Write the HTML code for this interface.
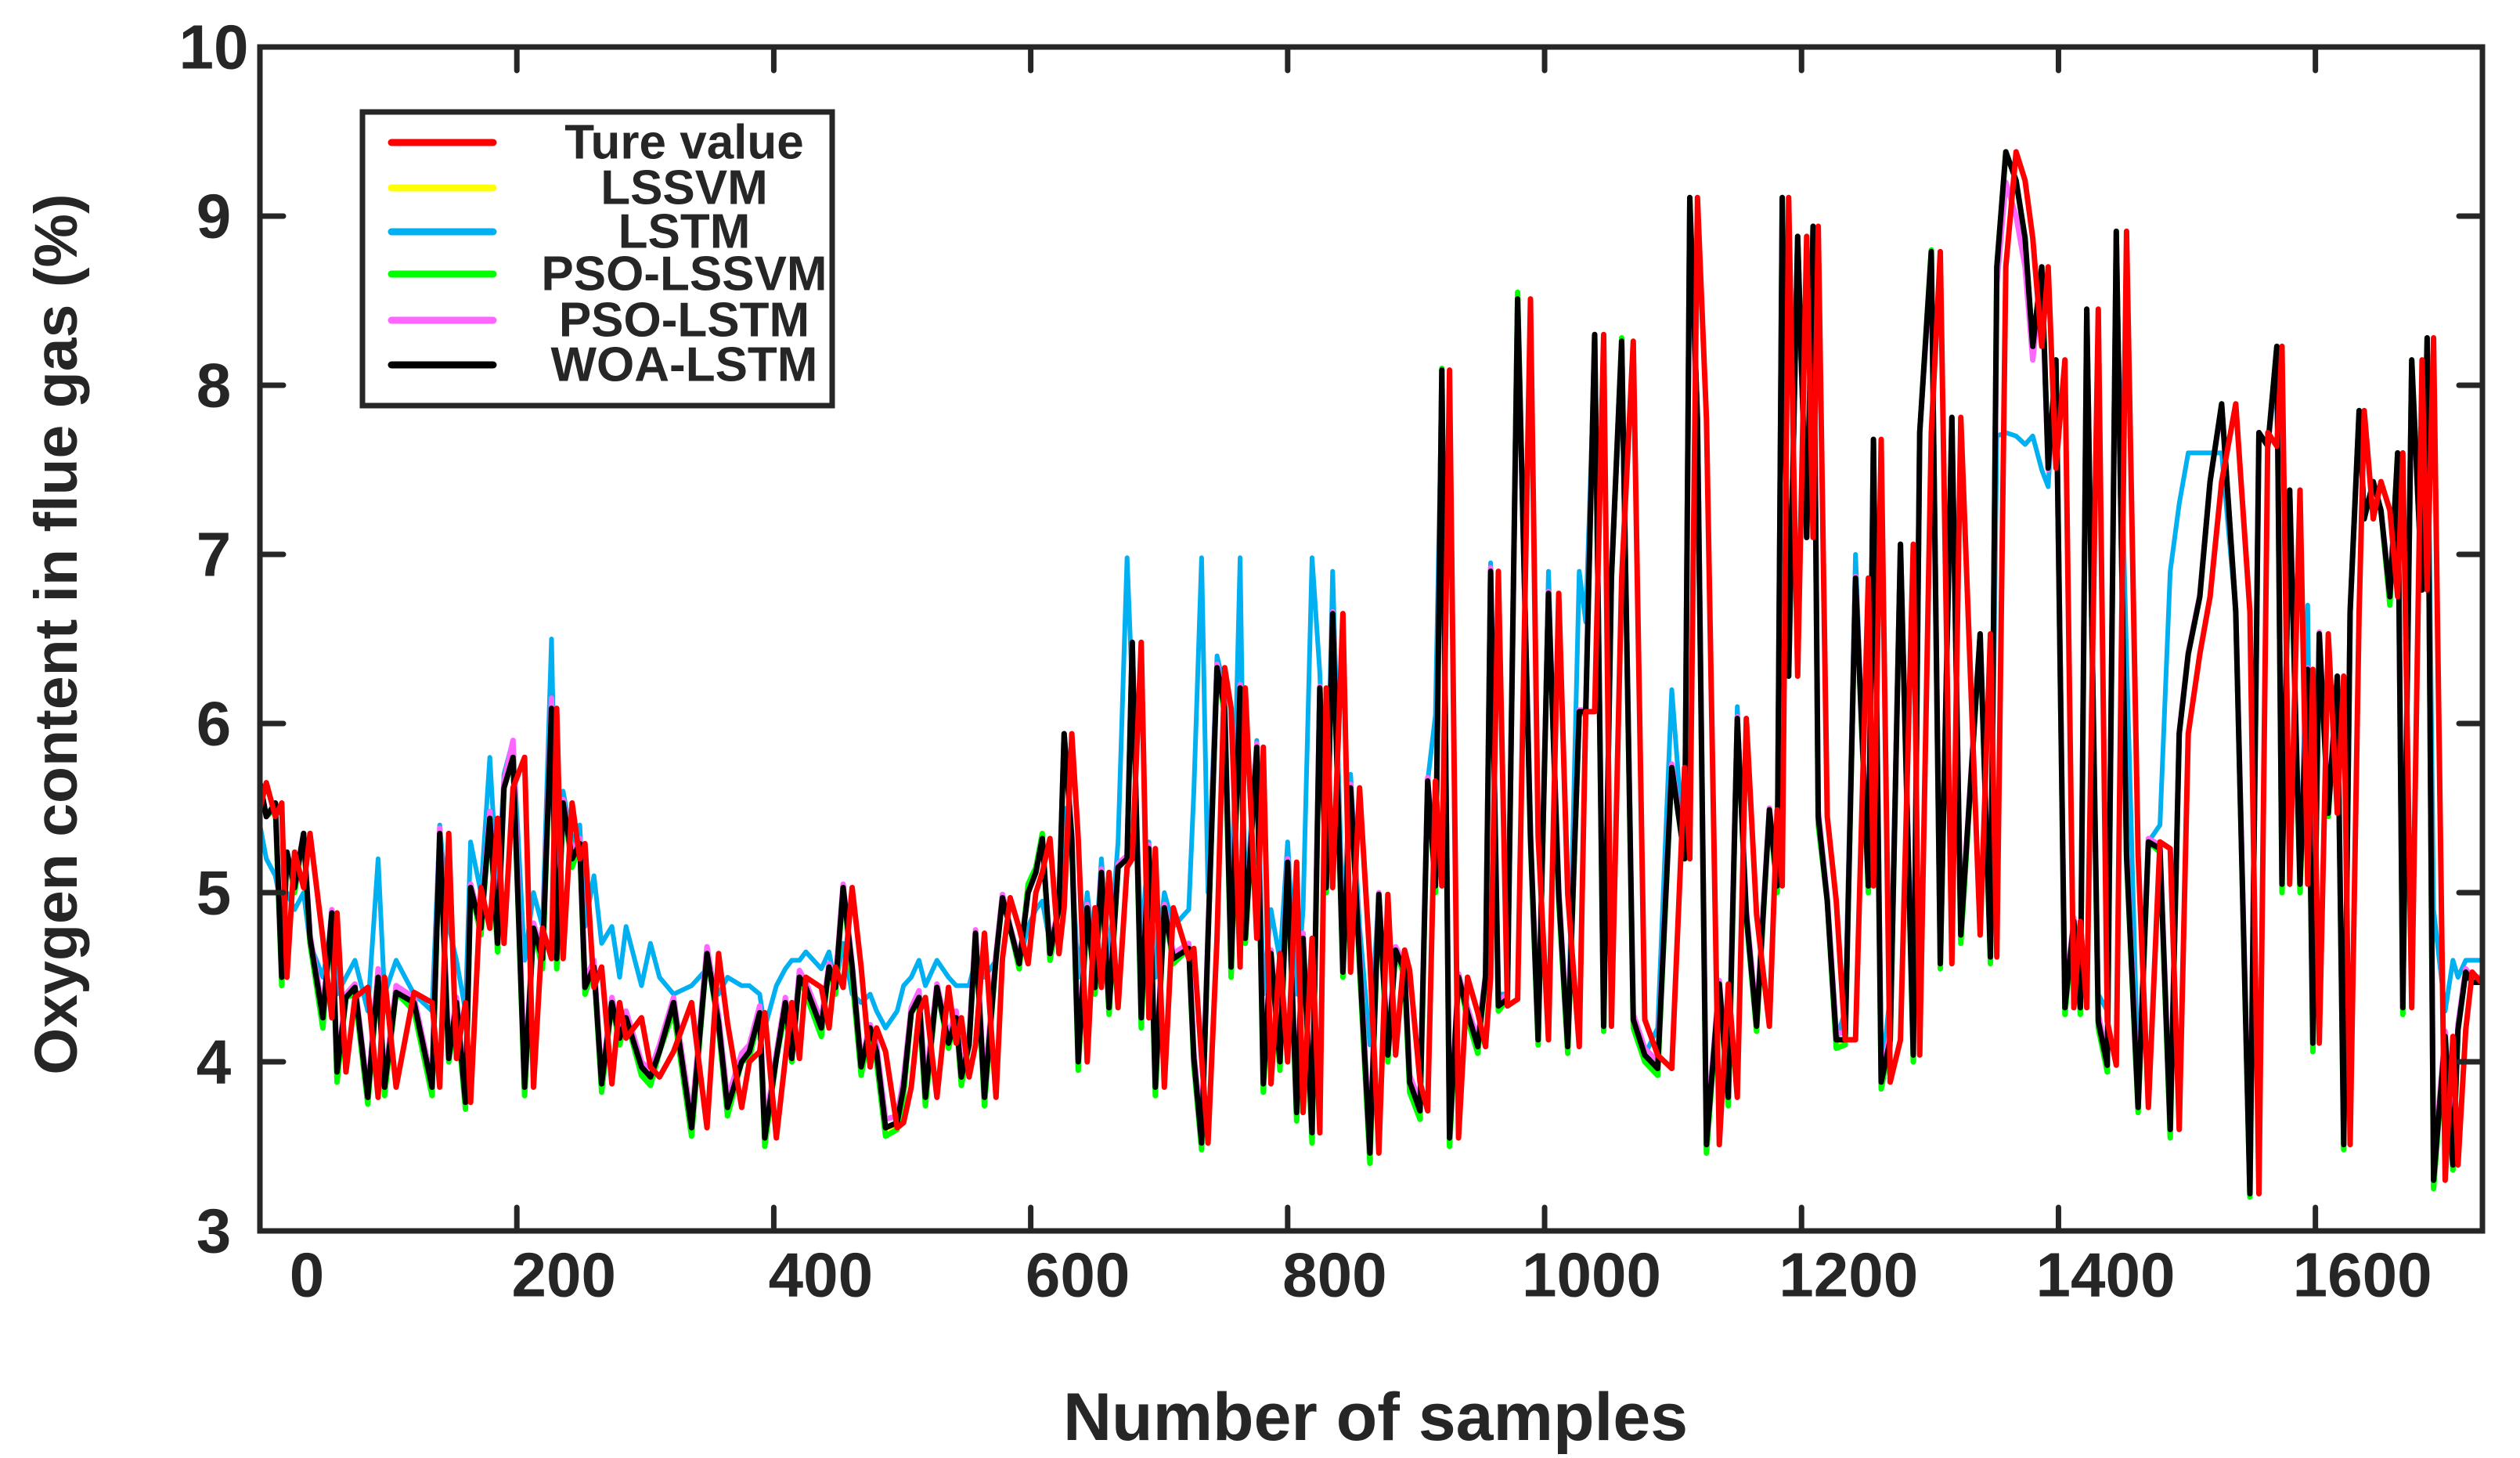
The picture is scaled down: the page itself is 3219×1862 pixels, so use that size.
<!DOCTYPE html>
<html><head><meta charset="utf-8"><style>
html,body{margin:0;padding:0;background:#fff;}
svg{display:block;}
text{font-family:"Liberation Sans",sans-serif;font-weight:bold;fill:#262626;}
</style></head>
<body>
<svg id="chart" width="3219" height="1862" viewBox="0 0 3219 1862" xmlns="http://www.w3.org/2000/svg">
<rect x="0" y="0" width="3219" height="1862" fill="#fff"/>
<g id="series"></g>
<g id="axes"></g>
<text x="72" y="810" font-size="77" text-anchor="middle" dominant-baseline="central" transform="rotate(-90 72 810)">Oxygen content in flue gas (%)</text>
<text x="1757" y="1810" font-size="86" text-anchor="middle" dominant-baseline="central">Number of samples</text>
<g id="legend"></g>
</svg>
<script>
const samples=[0,5,12,17,21,27,34,39,49,56,60,67,74,84,92,97,106,120,134,140,147,153,160,164,172,179,185,190,197,206,213,220,227,231,236,243,249,253,260,266,274,280,285,297,304,311,322,336,348,357,364,375,381,389,393,402,409,414,420,425,437,443,448,454,461,468,475,480,487,496,501,507,513,518,527,536,542,546,552,557,564,573,578,584,591,598,604,609,615,622,626,632,637,644,650,655,661,668,675,679,686,692,697,704,711,723,727,733,738,745,751,756,763,767,776,781,787,794,800,807,812,819,825,830,835,843,849,856,864,871,878,884,891,895,903,909,915,920,926,933,940,948,954,958,964,971,979,989,995,1003,1011,1018,1027,1032,1039,1046,1052,1060,1069,1078,1088,1099,1109,1113,1119,1126,1136,1143,1150,1157,1165,1175,1181,1185,1190,1197,1204,1209,1213,1220,1227,1234,1242,1252,1256,1262,1269,1277,1287,1292,1301,1308,1317,1324,1339,1347,1352,1359,1367,1374,1380,1387,1392,1398,1405,1412,1417,1422,1431,1438,1445,1453,1462,1470,1479,1487,1494,1501,1510,1518,1527,1538,1549,1556,1563,1570,1574,1580,1588,1594,1598,1603,1610,1617,1622,1627,1634,1638,1645,1651,1658,1664,1668,1675,1683,1687,1692,1701,1707,1711,1717,1722,1729];
const trueValue=[5.5,5.65,5.45,5.53,4.5,5.24,5.03,5.35,4.73,4.26,4.88,3.94,4.38,4.44,3.79,4.5,3.85,4.41,4.35,3.85,5.35,4.02,4.35,3.76,5.03,4.79,5.44,4.7,5.62,5.8,3.85,4.79,4.61,6.09,4.61,5.53,5.2,5.29,4.44,4.56,3.87,4.35,4.14,4.26,3.97,3.91,4.06,4.35,3.61,4.64,4.23,3.73,4.0,4.06,4.29,3.55,4.02,4.35,4.02,4.5,4.44,4.2,4.56,4.44,5.03,4.56,3.97,4.2,4.06,3.61,3.64,3.85,4.29,4.38,3.79,4.44,4.11,4.26,3.91,4.1,4.76,3.79,4.61,4.97,4.79,4.58,5.0,5.12,5.32,4.64,4.91,5.94,5.32,4.0,4.91,4.44,5.12,4.32,5.15,5.2,6.48,4.26,5.26,3.85,4.91,4.61,4.67,4.02,3.52,4.73,6.33,6.09,4.56,6.21,4.73,5.86,3.87,4.64,4.0,5.18,3.7,4.73,3.58,6.21,5.03,6.65,4.53,5.62,4.6,3.46,4.99,4.04,4.66,4.54,3.88,3.71,5.66,5.04,8.09,3.55,4.5,4.29,4.09,4.5,6.9,4.33,4.37,8.51,5.33,4.13,6.77,4.99,4.09,6.07,6.07,8.3,4.21,6.86,8.26,4.25,4.04,3.96,5.74,5.2,9.11,7.8,3.51,4.46,3.79,6.03,4.87,4.21,5.49,5.04,9.11,6.28,8.88,7.1,8.94,5.45,4.95,4.13,4.13,6.86,5.04,7.68,3.88,4.13,7.06,4.04,7.72,8.79,4.58,7.81,4.75,6.53,4.62,8.7,9.38,9.21,8.87,8.23,8.7,7.51,8.15,4.32,4.83,4.32,8.45,4.24,3.98,8.91,5.22,3.73,5.3,5.26,3.6,5.94,6.41,6.75,7.43,7.89,6.66,3.22,7.72,7.64,8.23,5.05,7.38,5.05,6.32,4.11,6.53,5.47,6.28,3.51,6.66,7.85,7.21,7.43,7.26,6.75,7.6,4.32,8.15,6.79,8.28,3.3,4.15,3.39,4.19,4.53,4.47];
const woaLstm=[5.65,5.45,5.53,4.5,5.24,5.03,5.35,4.73,4.26,4.88,3.94,4.38,4.44,3.79,4.5,3.85,4.41,4.35,3.85,5.35,4.02,4.35,3.76,5.03,4.79,5.44,4.7,5.62,5.8,3.85,4.79,4.61,6.09,4.61,5.53,5.2,5.29,4.44,4.56,3.87,4.35,4.14,4.26,3.97,3.91,4.06,4.35,3.61,4.64,4.23,3.73,4.0,4.06,4.29,3.55,4.02,4.35,4.02,4.5,4.44,4.2,4.56,4.44,5.03,4.56,3.97,4.2,4.06,3.61,3.64,3.85,4.29,4.38,3.79,4.44,4.11,4.26,3.91,4.1,4.76,3.79,4.61,4.97,4.79,4.58,5.0,5.12,5.32,4.64,4.91,5.94,5.32,4.0,4.91,4.44,5.12,4.32,5.15,5.2,6.48,4.26,5.26,3.85,4.91,4.61,4.67,4.02,3.52,4.73,6.33,6.09,4.56,6.21,4.73,5.86,3.87,4.64,4.0,5.18,3.7,4.73,3.58,6.21,5.03,6.65,4.53,5.62,4.6,3.46,4.99,4.04,4.66,4.54,3.88,3.71,5.66,5.04,8.09,3.55,4.5,4.29,4.09,4.5,6.9,4.33,4.37,8.51,5.33,4.13,6.77,4.99,4.09,6.07,6.07,8.3,4.21,6.86,8.26,4.25,4.04,3.96,5.74,5.2,9.11,7.8,3.51,4.46,3.79,6.03,4.87,4.21,5.49,5.04,9.11,6.28,8.88,7.1,8.94,5.45,4.95,4.13,4.13,6.86,5.04,7.68,3.88,4.13,7.06,4.04,7.72,8.79,4.58,7.81,4.75,6.53,4.62,8.7,9.38,9.21,8.87,8.23,8.7,7.51,8.15,4.32,4.83,4.32,8.45,4.24,3.98,8.91,5.22,3.73,5.3,5.26,3.6,5.94,6.41,6.75,7.43,7.89,6.66,3.22,7.72,7.64,8.23,5.05,7.38,5.05,6.32,4.11,6.53,5.47,6.28,3.51,6.66,7.85,7.21,7.43,7.26,6.75,7.6,4.32,8.15,6.79,8.28,3.3,4.15,3.39,4.19,4.53,4.47,4.47];
const psoLssvm=[5.6,5.45,5.5,4.45,5.24,5.0,5.35,4.7,4.2,4.88,3.88,4.38,4.4,3.75,4.5,3.8,4.41,4.3,3.8,5.35,4.0,4.3,3.72,5.03,4.75,5.44,4.65,5.62,5.8,3.8,4.79,4.55,6.09,4.55,5.53,5.15,5.29,4.4,4.56,3.82,4.35,4.1,4.26,3.92,3.86,4.06,4.3,3.56,4.64,4.2,3.68,4.0,4.02,4.29,3.5,4.02,4.3,4.0,4.5,4.4,4.15,4.56,4.4,5.03,4.5,3.92,4.2,4.0,3.56,3.6,3.8,4.29,4.35,3.74,4.44,4.08,4.26,3.86,4.1,4.76,3.74,4.61,4.97,4.79,4.55,5.05,5.15,5.35,4.6,4.91,5.94,5.3,3.95,4.91,4.4,5.12,4.28,5.15,5.2,6.48,4.2,5.26,3.8,4.91,4.58,4.67,3.98,3.48,4.73,6.33,6.05,4.5,6.21,4.7,5.86,3.82,4.64,3.95,5.18,3.65,4.73,3.52,6.21,5.0,6.65,4.5,5.62,4.55,3.4,4.99,4.0,4.66,4.5,3.82,3.66,5.66,5.0,8.1,3.5,4.5,4.25,4.05,4.5,6.9,4.3,4.37,8.55,5.3,4.1,6.77,4.95,4.05,6.07,6.05,8.3,4.18,6.86,8.28,4.2,4.0,3.92,5.74,5.2,9.1,7.8,3.46,4.46,3.74,6.03,4.85,4.18,5.49,5.0,9.1,6.28,8.88,7.1,8.94,5.4,4.95,4.08,4.1,6.86,5.0,7.68,3.84,4.1,7.06,4.0,7.72,8.8,4.55,7.81,4.7,6.53,4.58,8.7,9.38,9.21,8.87,8.23,8.7,7.51,8.15,4.28,4.83,4.28,8.45,4.2,3.94,8.91,5.2,3.7,5.3,5.24,3.55,5.94,6.41,6.75,7.43,7.89,6.66,3.2,7.72,7.64,8.23,5.0,7.38,5.0,6.32,4.06,6.53,5.45,6.28,3.48,6.66,7.85,7.21,7.43,7.26,6.7,7.6,4.28,8.15,6.79,8.28,3.25,4.15,3.36,4.19,4.53,4.5,4.5];
const psoLstm=[5.65,5.45,5.53,4.5,5.24,5.05,5.35,4.75,4.3,4.9,3.96,4.4,4.46,3.82,4.55,3.88,4.45,4.38,3.88,5.38,4.05,4.38,3.8,5.05,4.82,5.48,4.74,5.66,5.9,3.9,4.82,4.64,6.15,4.66,5.55,5.24,5.32,4.48,4.6,3.9,4.38,4.18,4.3,4.0,3.95,4.1,4.38,3.66,4.68,4.27,3.78,4.05,4.1,4.33,3.6,4.05,4.38,4.05,4.54,4.47,4.24,4.58,4.48,5.05,4.58,4.0,4.22,4.1,3.66,3.68,3.9,4.32,4.42,3.85,4.46,4.15,4.3,3.95,4.14,4.78,3.85,4.64,4.99,4.8,4.6,5.0,5.12,5.32,4.66,4.93,5.94,5.34,4.05,4.93,4.48,5.14,4.36,5.17,5.22,6.48,4.3,5.28,3.9,4.93,4.64,4.7,4.06,3.58,4.76,6.35,6.1,4.6,6.23,4.76,5.88,3.92,4.66,4.05,5.2,3.75,4.76,3.62,6.22,5.06,6.66,4.56,5.64,4.63,3.52,5.0,4.08,4.68,4.58,3.92,3.76,5.68,5.06,8.09,3.6,4.52,4.32,4.13,4.52,6.92,4.36,4.4,8.5,5.35,4.17,6.78,5.02,4.13,6.08,6.08,8.3,4.25,6.88,8.26,4.28,4.08,4.0,5.76,5.22,9.05,7.8,3.56,4.48,3.84,6.04,4.9,4.25,5.5,5.07,9.05,6.3,8.86,7.1,8.92,5.48,4.97,4.17,4.17,6.87,5.07,7.66,3.92,4.17,7.06,4.08,7.72,8.75,4.6,7.8,4.78,6.53,4.66,8.6,9.2,9.0,8.7,8.15,8.65,7.5,8.12,4.36,4.85,4.36,8.43,4.28,4.02,8.88,5.25,3.78,5.32,5.28,3.65,5.95,6.42,6.76,7.43,7.88,6.67,3.27,7.72,7.64,8.2,5.08,7.38,5.08,6.33,4.15,6.54,5.5,6.28,3.56,6.67,7.84,7.21,7.43,7.26,6.77,7.58,4.36,8.12,6.8,8.25,3.36,4.18,3.44,4.22,4.55,4.5,4.5];
const lssvm=[5.6,5.45,5.5,4.48,5.24,5.02,5.35,4.72,4.24,4.88,3.92,4.38,4.42,3.78,4.5,3.84,4.41,4.34,3.84,5.35,4.01,4.34,3.75,5.03,4.78,5.44,4.69,5.62,5.8,3.84,4.79,4.6,6.09,4.6,5.53,5.19,5.29,4.43,4.56,3.86,4.35,4.13,4.26,3.96,3.9,4.06,4.34,3.6,4.64,4.22,3.72,4.0,4.05,4.29,3.54,4.02,4.34,4.02,4.5,4.43,4.19,4.56,4.43,5.03,4.55,3.96,4.2,4.05,3.6,3.63,3.84,4.29,4.37,3.78,4.44,4.1,4.26,3.9,4.1,4.76,3.78,4.61,4.97,4.79,4.58,5.0,5.12,5.32,4.63,4.91,5.94,5.32,3.99,4.91,4.43,5.12,4.31,5.15,5.2,6.48,4.25,5.26,3.84,4.91,4.6,4.67,4.01,3.51,4.73,6.33,6.09,4.55,6.21,4.72,5.86,3.86,4.64,3.99,5.18,3.69,4.73,3.57,6.21,5.02,6.65,4.52,5.62,4.59,3.45,4.99,4.03,4.66,4.53,3.87,3.7,5.66,5.04,8.09,3.54,4.5,4.28,4.08,4.5,6.9,4.32,4.37,8.51,5.33,4.12,6.77,4.98,4.08,6.07,6.07,8.3,4.2,6.86,8.26,4.24,4.03,3.95,5.74,5.2,9.11,7.8,3.5,4.46,3.78,6.03,4.86,4.2,5.49,5.03,9.11,6.28,8.88,7.1,8.94,5.44,4.95,4.12,4.12,6.86,5.03,7.68,3.87,4.12,7.06,4.03,7.72,8.79,4.57,7.81,4.74,6.53,4.61,8.7,9.38,9.21,8.87,8.23,8.7,7.51,8.15,4.31,4.83,4.31,8.45,4.23,3.97,8.91,5.21,3.72,5.3,5.25,3.59,5.94,6.41,6.75,7.43,7.89,6.66,3.22,7.72,7.64,8.23,5.04,7.38,5.04,6.32,4.1,6.53,5.46,6.28,3.5,6.66,7.85,7.21,7.43,7.26,6.74,7.6,4.31,8.15,6.79,8.28,3.29,4.15,3.38,4.19,4.53,4.47,4.47];
const lstm=[5.4,5.2,5.1,4.9,5.0,4.9,5.0,4.7,4.5,4.8,4.4,4.5,4.6,4.3,5.2,4.4,4.6,4.4,4.3,5.4,4.8,4.6,4.3,5.3,5.0,5.8,5.0,5.7,5.9,4.6,5.0,4.8,6.5,5.0,5.6,5.3,5.4,4.8,5.1,4.7,4.8,4.5,4.8,4.45,4.7,4.5,4.4,4.45,4.55,4.4,4.5,4.45,4.45,4.4,4.2,4.45,4.55,4.6,4.6,4.65,4.55,4.65,4.45,4.7,4.4,4.35,4.4,4.3,4.2,4.3,4.45,4.5,4.6,4.45,4.6,4.5,4.45,4.45,4.45,4.6,4.5,4.6,4.97,4.79,4.58,4.8,4.9,4.95,4.7,4.91,5.5,5.2,4.5,5.0,4.6,5.2,4.6,5.3,6.98,6.2,4.7,5.3,4.5,5.0,4.8,4.9,5.6,6.98,5.0,6.4,6.2,4.8,6.98,4.9,5.9,4.4,4.9,4.6,5.3,4.4,4.9,6.98,6.3,5.2,6.9,4.8,5.7,4.8,4.1,5.0,4.04,4.66,4.54,3.88,3.71,5.66,6.05,8.0,3.6,4.5,4.29,4.09,4.5,6.95,4.4,4.4,8.4,5.33,4.13,6.9,4.99,4.09,6.9,6.6,8.2,4.21,6.9,8.1,4.25,4.04,4.2,6.2,5.2,9.0,7.6,3.6,4.46,3.79,6.1,4.87,4.21,5.5,5.04,8.9,6.4,8.7,7.1,8.6,5.45,4.95,4.13,4.3,7.0,5.04,7.6,3.9,4.4,7.0,4.3,7.72,8.7,4.58,7.7,4.75,6.53,4.62,7.7,7.72,7.7,7.65,7.7,7.5,7.4,8.15,4.32,4.83,4.32,8.4,4.4,4.3,8.8,6.4,3.9,5.3,5.4,6.9,7.3,7.6,7.6,7.6,7.6,6.66,3.3,7.72,7.64,8.1,5.2,7.38,5.05,6.7,4.3,6.53,5.47,6.28,3.6,6.66,7.8,7.21,7.43,7.26,6.75,7.6,4.4,8.15,6.79,8.28,4.9,4.3,4.6,4.5,4.6,4.6,4.6];
const xTicks=[200,400,600,800,1000,1200,1400,1600];
const xTickLabels=["0","200","400","600","800","1000","1200","1400","1600"];
const xLabelValues=[0,200,400,600,800,1000,1200,1400,1600];
const yTicks=[3,4,5,6,7,8,9,10];

const NS="http://www.w3.org/2000/svg";
const L=332,R=3171,T=60,B=1572;
const X0=0,X1=1730,Y0=3,Y1=10;
function xs(v){return L+(v-X0)/(X1-X0)*(R-L);}
function ys(v){return B-(v-Y0)/(Y1-Y0)*(B-T);}
function mk(tag,attrs,parent){const e=document.createElementNS(NS,tag);for(const k in attrs)e.setAttribute(k,attrs[k]);parent.appendChild(e);return e;}

const seriesG=document.getElementById('series');
const defs=mk('defs',{},seriesG);
const cp=mk('clipPath',{id:'clip'},defs);
mk('rect',{x:L,y:T,width:R-L,height:B-T},cp);
const seriesList=[
 {vals:lssvm,color:'#ffff00',w:6,name:'lssvm-line'},
 {vals:lstm,color:'#00b0f0',w:6,name:'lstm-line'},
 {vals:psoLssvm,color:'#00ff00',w:7,name:'pso-lssvm-line'},
 {vals:psoLstm,color:'#ff66ff',w:7,name:'pso-lstm-line'},
 {vals:woaLstm,color:'#000000',w:7,name:'woa-lstm-line'},
 {vals:trueValue,color:'#ff0000',w:7,name:'true-value-line'}
];
seriesList.forEach(s=>{
  const n=Math.min(samples.length,s.vals.length);
  let d='';
  for(let i=0;i<n;i++){d+=(i?'L':'M')+xs(samples[i]).toFixed(1)+' '+ys(s.vals[i]).toFixed(1);}
  const p=mk('path',{d:d,fill:'none',stroke:s.color,'stroke-width':s.w,'stroke-linejoin':'round','clip-path':'url(#clip)'},seriesG);
  
  
});

const axes=document.getElementById('axes');
const frame=mk('rect',{x:L,y:T,width:R-L,height:B-T,fill:'none',stroke:'#262626','stroke-width':7},axes);


xTicks.forEach(v=>{
  const x=xs(v);
  const t1=mk('line',{x1:x,y1:B,x2:x,y2:B-30,stroke:'#262626','stroke-width':7,'stroke-linecap':'round'},axes);
  
  
  const t2=mk('line',{x1:x,y1:T,x2:x,y2:T+30,stroke:'#262626','stroke-width':7,'stroke-linecap':'round'},axes);
  
  
});
xLabelValues.forEach((v,i)=>{
  const t=mk('text',{x:xs(v)+60,y:1628,'font-size':80,'text-anchor':'middle','dominant-baseline':'central'},axes);
  t.textContent=xTickLabels[i];
  
  
});
yTicks.forEach(v=>{
  const y=ys(v);
  if(v>Y0&&v<Y1){
    const t1=mk('line',{x1:L,y1:y,x2:L+30,y2:y,stroke:'#262626','stroke-width':7,'stroke-linecap':'round'},axes);
    
    
    const t2=mk('line',{x1:R,y1:y,x2:R-30,y2:y,stroke:'#262626','stroke-width':7,'stroke-linecap':'round'},axes);
    
    
  }
  const t=mk('text',{x:273,y:y,'font-size':80,'text-anchor':'middle','dominant-baseline':'central'},axes);
  t.textContent=String(v);
  
  
});

const legend=document.getElementById('legend');
const lb=mk('rect',{x:463,y:143,width:600,height:375,fill:'#fff',stroke:'#262626','stroke-width':7},legend);


const legendLabels=['Ture value','LSSVM','LSTM','PSO-LSSVM','PSO-LSTM','WOA-LSTM'];
const legendColors=['#ff0000','#ffff00','#00b0f0','#00ff00','#ff66ff','#000000'];
const legendY=[182,240,296,350,409,466];
legendLabels.forEach((lab,i)=>{
  const ln=mk('line',{x1:500,y1:legendY[i],x2:630,y2:legendY[i],stroke:legendColors[i],'stroke-width':9,'stroke-linecap':'round'},legend);
  
  
  const t=mk('text',{x:874,y:legendY[i],'font-size':62,'text-anchor':'middle','dominant-baseline':'central',fill:'#000'},legend);
  t.textContent=lab;
  
  
});
</script>
</body></html>
